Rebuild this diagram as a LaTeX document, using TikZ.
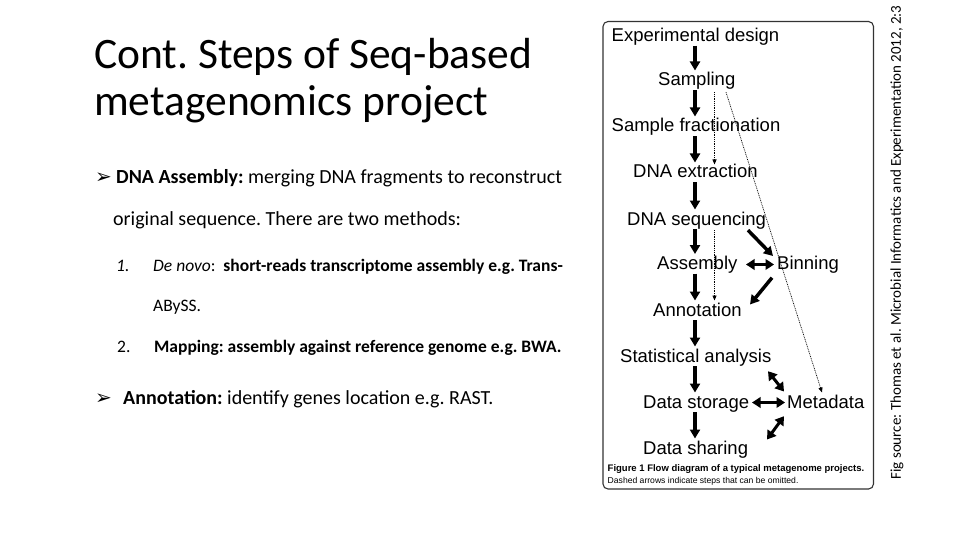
\documentclass[tikz,border=0pt]{standalone}
\usepackage{fontspec}
\setmainfont{Carlito}
\newfontfamily\arial{Liberation Sans}
\newfontfamily\dejavu{DejaVu Sans}
\usetikzlibrary{arrows.meta,calc}
\frenchspacing
\begin{document}
\begin{tikzpicture}[x=1pt,y=-1pt,
  fig/.style={font=\arial\fontsize{18.5}{20}\selectfont, inner sep=0pt, text height=13.3pt, text depth=4pt, anchor=base west},
  body/.style={font=\fontsize{20}{24}\selectfont, inner sep=0pt, anchor=base west},
  item/.style={font=\fontsize{17.5}{21}\selectfont, inner sep=0pt, anchor=base west},
  bul/.style={font=\dejavu\fontsize{20}{20}\selectfont, inner sep=0pt, anchor=base west},
  ttl/.style={font=\fontsize{43.5}{50}\selectfont, inner sep=0pt, anchor=base west},
  bigarrow/.style={line width=3.5pt, -{Triangle[width=10pt,length=9pt]}, shorten >=2pt},
  bigdouble/.style={line width=3pt, {Triangle[width=10.5pt,length=8.5pt]}-{Triangle[width=10.5pt,length=8.5pt]}},
  dotarrow/.style={line width=0.7pt, dash pattern=on 0.9pt off 0.9pt, -{Triangle[width=4pt,length=5pt]}}
]
\useasboundingbox (0,0) rectangle (960,540);
\fill[white] (0,0) rectangle (960,540);

% title
\node[ttl] (t1) at (94,69) {Cont. Steps of Seq-based};
\node[ttl] (t2) at (94,116) {metagenomics project};

% body
\node[bul] (bu1) at (95,183.5) {➢};
\node[body] (l1) at (116,183.5) {\textbf{DNA Assembly:} merging DNA fragments to reconstruct};
\node[body] (l2) at (113,225.7) {original sequence. There are two methods:};
\node[item] (n1) at (116,271.5) {\textit{1.}};
\node[item] (l3) at (153,271.5) {\textit{De novo}:\ \ \textbf{short-reads transcriptome assembly e.g. Trans-}};
\node[item] (l4) at (153,311) {ABySS.};
\node[item] (n2) at (117,352.5) {2.};
\node[item] (l5) at (154,352.5) {\textbf{Mapping: assembly against reference genome e.g. BWA.}};
\node[bul] (bu2) at (95,404.5) {➢};
\node[body] (l6) at (123,404.5) {\textbf{Annotation:} identify genes location e.g. RAST.};

% figure frame
\draw[rounded corners=5pt, line width=1.1pt, draw=black!80] (603,21.5) rectangle (873.5,489);

% figure nodes
\node[fig] (ed) at (611.5,41.5) {Experimental design};
\node[fig] (samp) at (658,86) {Sampling};
\node[fig] (sf) at (611.5,132) {Sample fractionation};
\node[fig] (ext) at (633,178) {DNA extraction};
\node[fig] (seq) at (627,225) {DNA sequencing};
\node[fig] (asm) at (657,269.5) {Assembly};
\node[fig] (bin) at (777,269.5) {Binning};
\node[fig] (ann) at (653,316) {Annotation};
\node[fig] (stat) at (620,362) {Statistical analysis};
\node[fig] (store) at (643,408) {Data storage};
\node[fig] (meta) at (787,408) {Metadata};
\node[fig] (share) at (643,454) {Data sharing};

\coordinate (col) at (695,0);
\coordinate (d1) at (714.5,0);

% main column arrows
\draw[bigarrow] (ed.south -| col) -- (samp.north -| col);
\draw[bigarrow] (samp.south -| col) -- (sf.north -| col);
\draw[bigarrow] (sf.south -| col) -- (ext.north -| col);
\draw[bigarrow] (ext.south -| col) -- (seq.north -| col);
\draw[bigarrow] (seq.south -| col) -- (asm.north -| col);
\draw[bigarrow] (asm.south -| col) -- (ann.north -| col);
\draw[bigarrow] (ann.south -| col) -- (stat.north -| col);
\draw[bigarrow] (stat.south -| col) -- (store.north -| col);
\draw[bigarrow] (store.south -| col) -- (share.north -| col);

% dotted arrows
\draw[dotarrow, shorten <=2pt] (samp.south -| d1) -- (ext.north -| d1);
\draw[dotarrow] ($(samp.south west)+(68,2)$) -- ($(meta.north west)+(35,-2)$);
\draw[dotarrow, shorten <=1pt, shorten >=2pt] (seq.south -| d1) -- (ann.north -| d1);

% side arrows
\draw[bigarrow, shorten >=0pt] ($(seq.south west)+(121,1)$) -- ($(bin.north west)+(-4,0)$);
\draw[bigdouble] ($(asm.base west)+(89,-5)$) -- ($(bin.base west)+(-3,-5)$);
\draw[bigarrow, shorten >=0pt] ($(bin.south west)+(-5,4)$) -- ($(ann.north west)+(97,2)$);
\draw[bigdouble] ($(stat.south west)+(148,5)$) -- ($(meta.north west)+(-3,-3)$);
\draw[bigdouble] ($(store.base west)+(109,-5.5)$) -- ($(meta.base west)+(-2,-5.5)$);
\draw[bigdouble] ($(meta.south west)+(-3,4)$) -- ($(share.north west)+(124,-1)$);

% caption
\node[font=\arial\bfseries\fontsize{9.5}{11}\selectfont, inner sep=0pt, anchor=base west] (c1) at (607.5,471) {Figure 1 Flow diagram of a typical metagenome projects.};
\node[font=\arial\fontsize{8.6}{10}\selectfont, inner sep=0pt, anchor=base west] (c2) at (607.5,483.5) {Dashed arrows indicate steps that can be omitted.};

% source
\node[rotate=90, font=\fontsize{15}{15}\selectfont, inner sep=0pt] (src) at (897,242.5) {Fig source: Thomas et al. Microbial Informatics and Experimentation 2012, 2:3};
\end{tikzpicture}
\end{document}
